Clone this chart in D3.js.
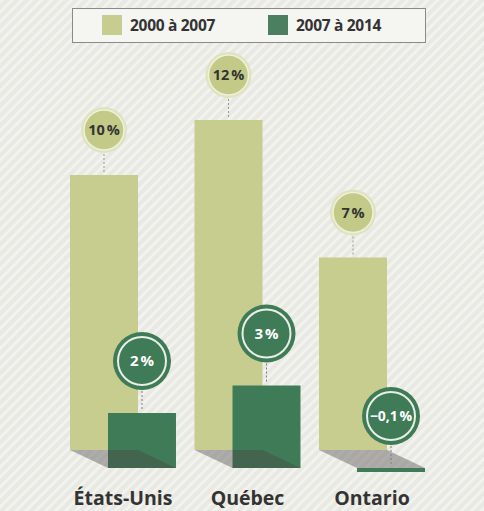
<!DOCTYPE html>
<html>
<head>
<meta charset="utf-8">
<script src="https://cdn.jsdelivr.net/npm/d3@7"></script>
<style>
  html, body { margin: 0; padding: 0; background: #e8e8e2; }
  svg { display: block; font-family: "Open Sans", "Noto Sans", sans-serif; }
</style>
</head>
<body>
<svg id="chart" width="484" height="511"></svg>
<script>
// data
const categories = ["États-Unis", "Québec", "Ontario"];
const seriesNames = ["2000 à 2007", "2007 à 2014"];
const growth2000to2007 = [10, 12, 7];
const growth2007to2014 = [2, 3, -0.1];

const W = 484, H = 511;
const lightColor = "#c6cd8e", darkColor = "#3f7b56";
const depth = { dx: 38, dy: 18 }; // back row -> front row offset

const svg = d3.select("#chart");
const defs = svg.append("defs");

// diagonal stripes in the background
const pat = defs.append("pattern")
  .attr("id", "stripes")
  .attr("width", 7).attr("height", 7)
  .attr("patternUnits", "userSpaceOnUse")
  .attr("patternTransform", "rotate(45)");
pat.append("rect").attr("width", 7).attr("height", 7).attr("fill", "#e9e9e3");
pat.append("rect").attr("width", 3).attr("height", 7).attr("fill", "#f2f2ee");
svg.append("rect").attr("width", W).attr("height", H).attr("fill", "url(#stripes)");

// scales
const x = d3.scaleBand()
  .domain(categories)
  .range([70, 387])
  .paddingInner(0.454)
  .paddingOuter(0);

const baseY = 450;
const y = d3.scaleLinear().domain([0, 12]).range([baseY, baseY - 12 * 27.5]);

const frLocale = d3.formatLocale({ decimal: ",", thousands: "\u00a0", grouping: [3], currency: ["", " $"], minus: "\u2212" });
const fmt = v => frLocale.format(Number.isInteger(v) ? "d" : ".1f")(v) + "\u202f%";

const rows = categories.map((c, i) => ({ cat: c, a: growth2000to2007[i], b: growth2007to2014[i] }));

// ---- legend ----
const legend = svg.append("g");
legend.append("rect")
  .attr("x", 72.5).attr("y", 8.5).attr("width", 353).attr("height", 34)
  .attr("fill", "#f5f5f2").attr("stroke", "#8a8a88").attr("stroke-width", 1);
const legendItems = [
  { name: seriesNames[0], color: lightColor, x: 102 },
  { name: seriesNames[1], color: "#4b7f5f", x: 268 }
];
legendItems.forEach(it => {
  legend.append("rect").attr("x", it.x).attr("y", 15).attr("width", 20).attr("height", 20).attr("fill", it.color);
  legend.append("text").attr("x", it.x + 28).attr("y", 31)
    .attr("font-size", 15.5).attr("font-weight", 700).attr("fill", "#333")
    .attr("letter-spacing", "-0.3")
    .text(it.name);
});

// ---- back row (2000 à 2007) ----
const g = svg.append("g");
g.selectAll("rect.back")
  .data(rows).join("rect")
  .attr("class", "back")
  .attr("x", d => x(d.cat))
  .attr("y", d => y(d.a))
  .attr("width", x.bandwidth())
  .attr("height", d => y(0) - y(d.a))
  .attr("fill", lightColor);

// ---- front row (2007 à 2014) ----
const fy = v => y(v) + depth.dy;
g.selectAll("rect.front")
  .data(rows).join("rect")
  .attr("class", "front")
  .attr("x", d => x(d.cat) + depth.dx)
  .attr("y", d => Math.min(fy(d.b), fy(0)))
  .attr("width", x.bandwidth())
  .attr("height", d => Math.max(Math.abs(fy(d.b) - fy(0)), 4))
  .attr("fill", darkColor);

// ---- floor shadow ----
g.selectAll("path.shadow")
  .data(rows).join("path")
  .attr("class", "shadow")
  .attr("d", d => {
    const x0 = x(d.cat), x1 = x0 + x.bandwidth();
    return `M${x0},${y(0)}L${x1},${y(0)}L${x1 + depth.dx},${fy(0)}L${x0 + depth.dx},${fy(0)}Z`;
  })
  .attr("fill", "#4a4648")
  .attr("fill-opacity", 0.4);

// ---- connectors + bubbles ----
function bubble(cx, top, r, val, dark) {
  const cy = top - (dark ? 52 : 45);
  g.append("line")
    .attr("x1", cx).attr("x2", cx)
    .attr("y1", cy + r + 1).attr("y2", top - 3)
    .attr("stroke", dark ? "#7d7d7d" : "#9a9a94")
    .attr("stroke-width", 1)
    .attr("stroke-dasharray", "2,2");
  g.append("circle").attr("cx", cx).attr("cy", cy).attr("r", r)
    .attr("fill", dark ? darkColor : "#dfe3c0");
  g.append("circle").attr("cx", cx).attr("cy", cy).attr("r", dark ? r - 5 : r - 3)
    .attr("fill", dark ? darkColor : "#c3ca88")
    .attr("stroke", dark ? "#e8efe6" : "#eef0da")
    .attr("stroke-width", dark ? 2 : 1.5);
  g.append("text").attr("x", cx).attr("y", cy + 5)
    .attr("text-anchor", "middle")
    .attr("font-size", dark ? (Math.abs(val) < 1 ? 14 : 15) : 14.5)
    .attr("font-weight", 700)
    .attr("letter-spacing", "-0.5")
    .attr("fill", dark ? "#fff" : "#333")
    .text(fmt(val));
}

rows.forEach(d => {
  const xa = x(d.cat) + x.bandwidth() / 2;
  bubble(xa, y(d.a), 23, d.a, false);
  const xb = xa + depth.dx;
  bubble(xb, Math.min(fy(d.b), fy(0)), 29, d.b, true);
});

// ---- category labels ----
g.selectAll("text.cat")
  .data(rows).join("text")
  .attr("class", "cat")
  .attr("x", d => x(d.cat) + (x.bandwidth() + depth.dx) / 2)
  .attr("y", 505)
  .attr("text-anchor", "middle")
  .attr("font-size", 19.5)
  .attr("font-weight", 700)
  .attr("fill", "#333")
  .text(d => d.cat);
</script>
</body>
</html>
